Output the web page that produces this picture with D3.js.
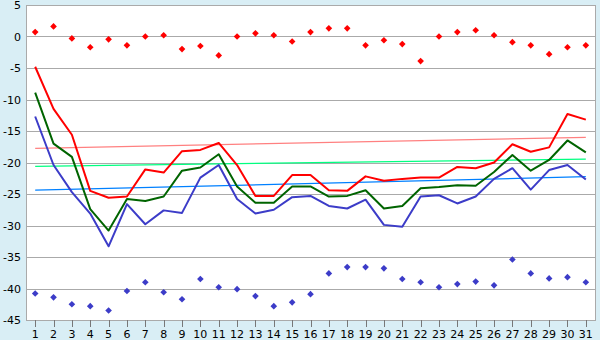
<!DOCTYPE html>
<html>
<head>
<meta charset="utf-8">
<script src="https://cdn.jsdelivr.net/npm/d3@7.9.0/dist/d3.min.js"></script>
<style>
  html, body { margin: 0; padding: 0; background: #d9eef5; }
  svg { display: block; }
  text { font-family: "DejaVu Sans", Verdana, sans-serif; font-size: 11px; fill: #000; }
</style>
</head>
<body>
<svg id="chart" width="600" height="340"></svg>
<script>
const days = d3.range(1, 32);

// daily values
const maxTemp = [-4.8, -11.5, -15.6, -24.5, -25.6, -25.4, -21.1, -21.6, -18.2, -18.0, -16.9,
  -20.4, -25.3, -25.3, -22.0, -22.0, -24.4, -24.5, -22.2, -22.9, -22.6, -22.4, -22.4,
  -20.7, -20.9, -20.0, -17.1, -18.3, -17.6, -12.3, -13.2];
const meanTemp = [-8.9, -17.0, -19.1, -27.4, -30.8, -25.8, -26.1, -25.4, -21.3, -20.8, -18.7,
  -23.8, -26.4, -26.4, -23.8, -23.8, -25.4, -25.3, -24.4, -27.3, -26.9, -24.1, -23.9,
  -23.6, -23.7, -21.5, -18.8, -21.3, -19.6, -16.5, -18.4];
const minTemp = [-12.7, -20.4, -24.7, -28.1, -33.3, -26.6, -29.8, -27.6, -28.0, -22.4, -20.4,
  -25.8, -28.1, -27.5, -25.5, -25.3, -26.9, -27.3, -25.9, -29.9, -30.2, -25.4, -25.2,
  -26.5, -25.4, -22.6, -20.9, -24.3, -21.2, -20.4, -22.7];
const recordHigh = [0.7, 1.6, -0.3, -1.7, -0.45, -1.4, 0.0, 0.2, -2.0, -1.5, -3.0,
  0.0, 0.5, 0.2, -0.8, 0.7, 1.3, 1.3, -1.4, -0.6, -1.2, -3.9, 0.0,
  0.7, 1.0, 0.2, -0.9, -1.4, -2.8, -1.7, -1.4];
const recordLow = [-40.8, -41.4, -42.5, -42.8, -43.5, -40.4, -39.0, -40.6, -41.7, -38.5, -39.8,
  -40.1, -41.2, -42.8, -42.2, -40.9, -37.6, -36.6, -36.6, -36.8, -38.5, -39.0, -39.8,
  -39.3, -38.9, -39.5, -35.4, -37.6, -38.4, -38.2, -39.0];

// trend lines: value on day 1 and on day 31
const maxTrend = [-17.75, -16.0];
const meanTrend = [-20.6, -19.45];
const minTrend = [-24.4, -22.25];

const yTicks = [5, 0, -5, -10, -15, -20, -25, -30, -35, -40, -45];

const svg = d3.select('#chart');
const plotLeft = 26, plotRight = 595, plotTop = 5, plotBottom = 320;

const x = d3.scaleBand().domain(days).range([plotLeft, plotRight]).padding(0);
const cx = (d) => x(d) + x.bandwidth() / 2;
const y = d3.scaleLinear().domain([-45, 5]).range([plotBottom, plotTop]);

svg.append('rect')
  .attr('x', plotLeft).attr('y', plotTop)
  .attr('width', plotRight - plotLeft).attr('height', plotBottom - plotTop)
  .attr('fill', '#fff');

// grid
svg.append('g')
  .selectAll('line')
  .data(yTicks)
  .join('line')
  .attr('x1', plotLeft).attr('x2', plotRight)
  .attr('y1', (d) => Math.round(y(d)) + 0.5)
  .attr('y2', (d) => Math.round(y(d)) + 0.5)
  .attr('stroke', '#aaa')
  .attr('shape-rendering', 'crispEdges');

// frame
svg.append('path')
  .attr('d', `M${plotLeft + 0.5},${plotTop}V${plotBottom + 0.5}H${plotRight + 0.5}V${plotTop}`)
  .attr('fill', 'none')
  .attr('stroke', '#aaa')
  .attr('shape-rendering', 'crispEdges');

// y labels
svg.append('g')
  .selectAll('text')
  .data(yTicks)
  .join('text')
  .attr('x', 21)
  .attr('y', (d) => y(d) + 4)
  .attr('text-anchor', 'end')
  .text((d) => String(d));

// x ticks and labels
const xAxis = svg.append('g');
xAxis.selectAll('line')
  .data(days)
  .join('line')
  .attr('x1', (d) => Math.round(cx(d)) + 0.5)
  .attr('x2', (d) => Math.round(cx(d)) + 0.5)
  .attr('y1', plotBottom).attr('y2', plotBottom + 7)
  .attr('stroke', '#777')
  .attr('shape-rendering', 'crispEdges');
xAxis.selectAll('text')
  .data(days)
  .join('text')
  .attr('x', (d) => cx(d))
  .attr('y', 338)
  .attr('text-anchor', 'middle')
  .text((d) => d);

// trend lines
const trends = [
  { v: maxTrend, color: '#ff8080' },
  { v: meanTrend, color: '#00ff80' },
  { v: minTrend, color: '#0080ff' },
];
trends.forEach((t) => {
  svg.append('line')
    .attr('x1', cx(1)).attr('x2', cx(31))
    .attr('y1', y(t.v[0])).attr('y2', y(t.v[1]))
    .attr('stroke', t.color)
    .attr('stroke-width', 1.2);
});

// main lines
const line = d3.line().x((d, i) => cx(days[i])).y((d) => y(d));
const series = [
  { v: minTemp, color: '#3c3cc8' },
  { v: meanTemp, color: '#006400' },
  { v: maxTemp, color: '#ff0000' },
];
series.forEach((s) => {
  svg.append('path')
    .datum(s.v)
    .attr('d', line)
    .attr('fill', 'none')
    .attr('stroke', s.color)
    .attr('stroke-width', 2)
    .attr('stroke-linejoin', 'round');
});

// record markers
const marker = d3.symbol().type(d3.symbolSquare).size(22);
const markers = [
  { v: recordHigh, color: '#ff0000' },
  { v: recordLow, color: '#3c3cc8' },
];
markers.forEach((m) => {
  svg.append('g')
    .selectAll('path')
    .data(m.v)
    .join('path')
    .attr('d', marker)
    .attr('transform', (d, i) => `translate(${cx(days[i])},${y(d)}) rotate(45)`)
    .attr('fill', m.color);
});
</script>
</body>
</html>
